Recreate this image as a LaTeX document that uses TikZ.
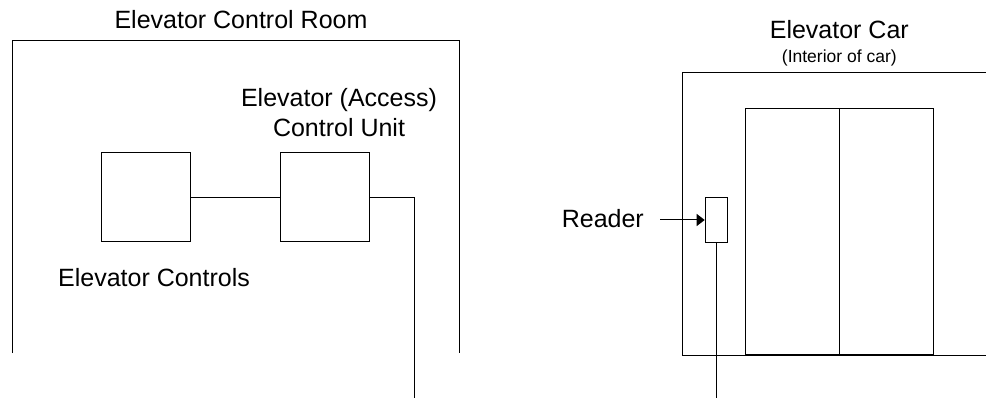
\documentclass[tikz,border=0pt]{standalone}
\usepackage{fontspec}
\setmainfont{Liberation Sans}
\usetikzlibrary{arrows.meta}
\begin{document}
\begin{tikzpicture}[x=1pt,y=-1pt,
  wire/.style={line width=1pt,black},
  unitbox/.style={draw,line width=1pt,minimum width=89pt,minimum height=89pt,inner sep=0pt},
  readerbox/.style={draw,line width=1pt,minimum width=22pt,minimum height=44.5pt,inner sep=0pt},
  caption/.style={anchor=base,inner sep=0pt,font=\fontsize{25}{30}\selectfont},
  subcaption/.style={anchor=base,inner sep=0pt,font=\fontsize{17.5}{21}\selectfont}]
\useasboundingbox (0,0) rectangle (986,398);

% control room walls (open at the bottom)
\draw[wire] (12,353) -- (12,41) -- (459,41) -- (459,353);
\node[caption] (roomlbl) at (241,28.3) {Elevator Control Room};

% elevator controls and access control unit
\node[unitbox] (ctrl) at (146,197.5) {};
\node[unitbox] (acu) at (324.5,197.5) {};
\node[caption] (ctrllbl) at (154,286.7) {Elevator Controls};
\node[caption] (acul1) at (339,107) {Elevator (Access)};
\node[caption] (acul2) at (339,136.7) {Control Unit};
\draw[wire] (ctrl.east) -- (acu.west);
\coordinate (acuend) at (414,398);
\draw[wire] (acu.east) -| (acuend);

% elevator car interior
\draw[wire] (986,72.3) -- (682.7,72.3) -- (682.7,355.7) -- (986,355.7);
\node[caption] (carlbl) at (839.3,38.3) {Elevator Car};
\node[subcaption] (carsub) at (839.3,62.7) {(Interior of car)};

% car doors
\node[draw,line width=1pt,minimum width=188pt,minimum height=245.7pt,inner sep=0pt] (door) at (839.3,231.2) {};
\draw[wire] (door.north) -- (door.south);

% card reader
\node[readerbox] (reader) at (716.2,220) {};
\node[caption,anchor=base east] (readerlbl) at (644,227.3) {Reader};
\coordinate (arrstart) at (660,220);
\draw[wire,-{Triangle[length=8pt,width=12pt]}] (arrstart) -- (reader.west);
\coordinate (readerend) at (716.2,398);
\draw[wire] (reader.south) -- (readerend);
\end{tikzpicture}
\end{document}
